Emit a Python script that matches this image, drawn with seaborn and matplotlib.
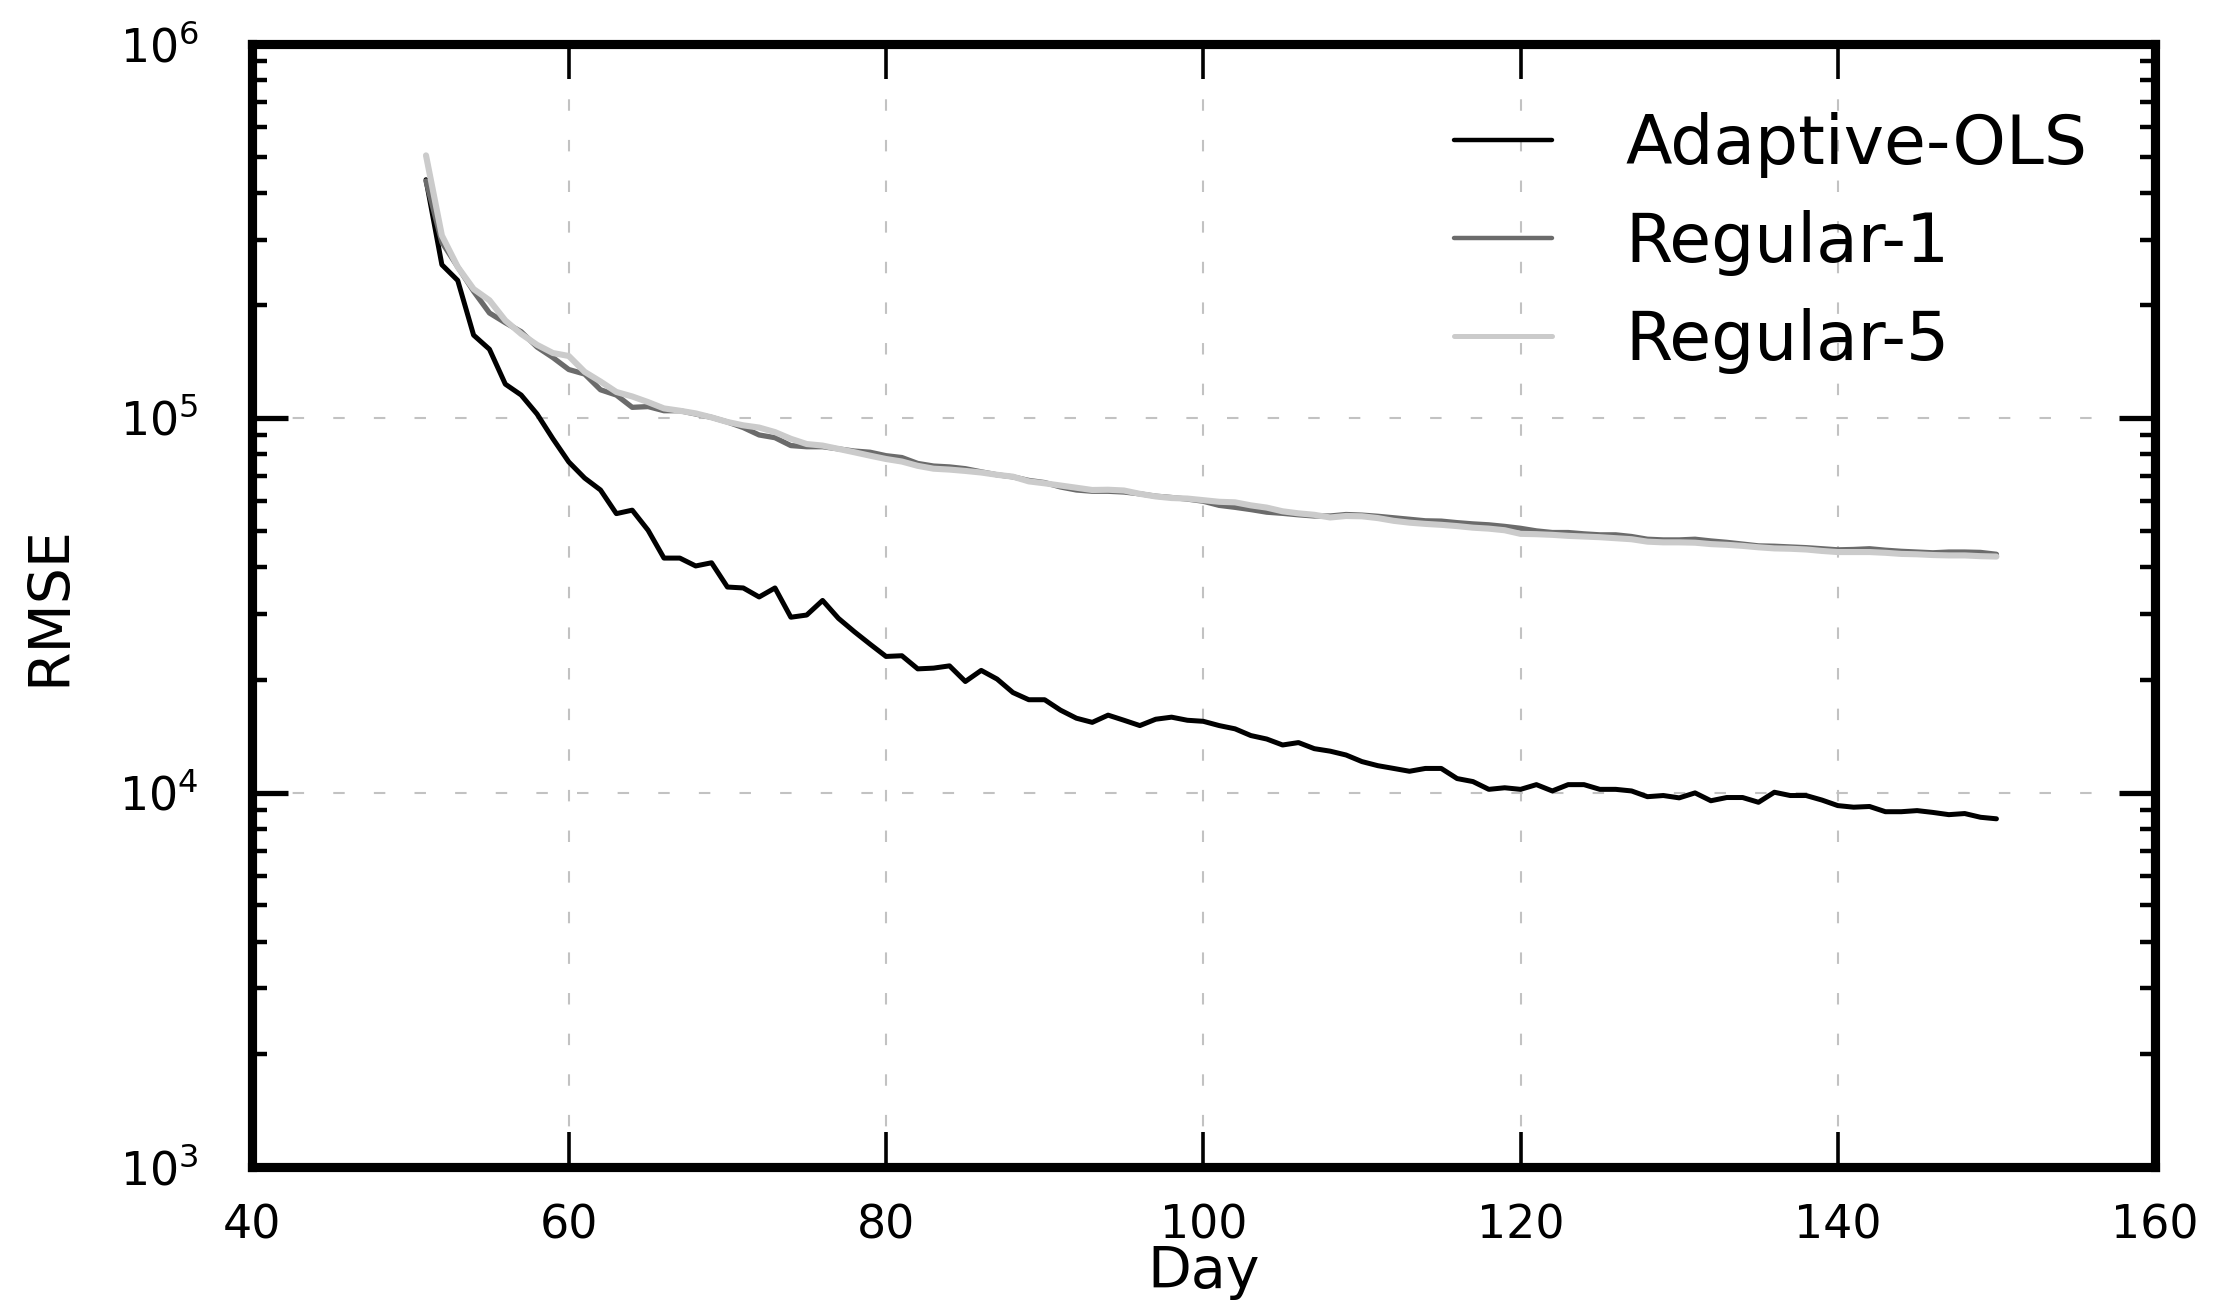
import matplotlib
matplotlib.use("Agg")
import matplotlib.pyplot as plt
import pandas as pd
import seaborn as sns

# RMSE per day
days = list(range(51, 151))

adaptive_ols = [433500, 257000, 233300, 166700, 152800, 123300, 115300, 102600, 88100, 76400,
                69200, 64300, 55600, 56800, 50200, 42300, 42300, 40300, 41100, 35400,
                35200, 33300, 35200, 29400, 29800, 32600, 29200, 26900, 24900, 23100,
                23200, 21400, 21500, 21800, 19800, 21200, 20100, 18500, 17700, 17700,
                16600, 15800, 15400, 16100, 15600, 15100, 15700, 15900, 15600, 15500,
                15100, 14800, 14200, 13900, 13400, 13600, 13100, 12900, 12600, 12100,
                11800, 11600, 11400, 11600, 11600, 10900, 10700, 10200, 10300, 10200,
                10500, 10100, 10500, 10500, 10200, 10200, 10100, 9750, 9820, 9680,
                9980, 9510, 9700, 9700, 9420, 10020, 9820, 9820, 9550, 9230,
                9140, 9180, 8890, 8890, 8950, 8850, 8730, 8790, 8590, 8510]

regular_1 = [430000, 295100, 253500, 218300, 191000, 179900, 170200, 154900, 145200, 134900,
             131200, 119100, 115300, 106900, 107400, 104700, 104700, 102600, 100500, 97700,
             94400, 90200, 88700, 84500, 83900, 83900, 82800, 81700, 81100, 79400,
             78500, 75700, 74500, 74100, 73300, 71900, 70600, 69700, 68200, 67300,
             65500, 64300, 63800, 63800, 63500, 62800, 61900, 61400, 60800, 60000,
             58500, 57800, 57000, 56100, 55700, 55200, 54800, 54800, 55300, 55100,
             54700, 54200, 53700, 53200, 53100, 52600, 52200, 51900, 51400, 50800,
             50000, 49500, 49500, 49100, 48800, 48800, 48300, 47500, 47300, 47300,
             47500, 47000, 46600, 46100, 45600, 45500, 45300, 45100, 44800, 44500,
             44600, 44800, 44400, 44100, 43900, 43700, 43900, 43900, 43800, 43300]

regular_5 = [503500, 307600, 253500, 221300, 206500, 182400, 167900, 157000, 149300, 146600,
             133000, 125300, 117500, 114300, 110400, 106200, 104700, 103000, 100500, 97700,
             95700, 94400, 91800, 88100, 85300, 84500, 82800, 81100, 79400, 77800,
             76600, 74600, 73300, 72900, 72300, 71600, 70600, 69800, 67800, 67000,
             66100, 65200, 64300, 64400, 64100, 62800, 61800, 61200, 61000, 60400,
             59800, 59600, 58500, 57700, 56400, 55700, 55200, 54300, 54800, 54700,
             54100, 53200, 52600, 52200, 51900, 51500, 51000, 50700, 50200, 49100,
             49000, 48800, 48500, 48300, 48100, 47800, 47500, 46800, 46600, 46600,
             46500, 46100, 45900, 45600, 45200, 44900, 44800, 44600, 44200, 43900,
             43900, 43900, 43700, 43400, 43300, 43100, 43000, 43000, 42800, 42700]

methods = ["Adaptive-OLS", "Regular-1", "Regular-5"]
palette = {"Adaptive-OLS": "#000000", "Regular-1": "#6b6b6b", "Regular-5": "#cbcbcb"}

df = pd.DataFrame({
    "Day": days * 3,
    "RMSE": adaptive_ols + regular_1 + regular_5,
    "method": [m for m in methods for _ in days],
})

sns.set_style("white")
plt.rcParams["font.family"] = ["DejaVu Sans"]
plt.rcParams.update({"text.color": "black", "axes.labelcolor": "black",
                     "xtick.color": "black", "ytick.color": "black"})

fig, ax = plt.subplots(figsize=(11.08, 6.52), dpi=200)
fig.subplots_adjust(left=0.1135, right=0.9725, top=0.9664, bottom=0.1051)

sns.lineplot(data=df, x="Day", y="RMSE", hue="method", hue_order=methods,
             palette=palette, linewidth=1.8, ax=ax)
for line, lw in zip(ax.lines, [1.8, 1.9, 2.2]):
    line.set_linewidth(lw)

ax.set_yscale("log")
ax.set_xlim(40, 160)
ax.set_ylim(1e3, 1e6)
ax.set_xticks(range(40, 161, 20))

ax.grid(True, which="major", linestyle=(0, (5.5, 14)), color="#c2c2c2", linewidth=0.75)

for s in ax.spines.values():
    s.set_linewidth(3.3)
    s.set_color("black")

ax.tick_params(which="both", direction="in", bottom=True, left=True, top=True, right=True,
               colors="black")
ax.tick_params(axis="x", which="major", length=12.5, width=1.3, pad=13, labelsize=16.5)
ax.tick_params(axis="y", which="major", length=13, width=1.9, pad=19, labelsize=16.5)
ax.tick_params(axis="y", which="minor", length=5.5, width=1.6)
ax.tick_params(axis="x", which="minor", bottom=False, top=False)

ax.set_xlabel("Day", fontsize=20.5, labelpad=-1)
ax.set_ylabel("RMSE", fontsize=20.5, labelpad=15)

handles, labels = ax.get_legend_handles_labels()
leg = ax.legend(handles, labels, loc="upper right", frameon=False, fontsize=24.5,
                handlelength=1.45, handletextpad=1.07, labelspacing=0.47,
                borderaxespad=0.5, borderpad=0.5)
for h, lw in zip(leg.get_lines(), [1.6, 1.6, 1.8]):
    h.set_linewidth(lw)

fig.savefig("out.png", dpi=200)
